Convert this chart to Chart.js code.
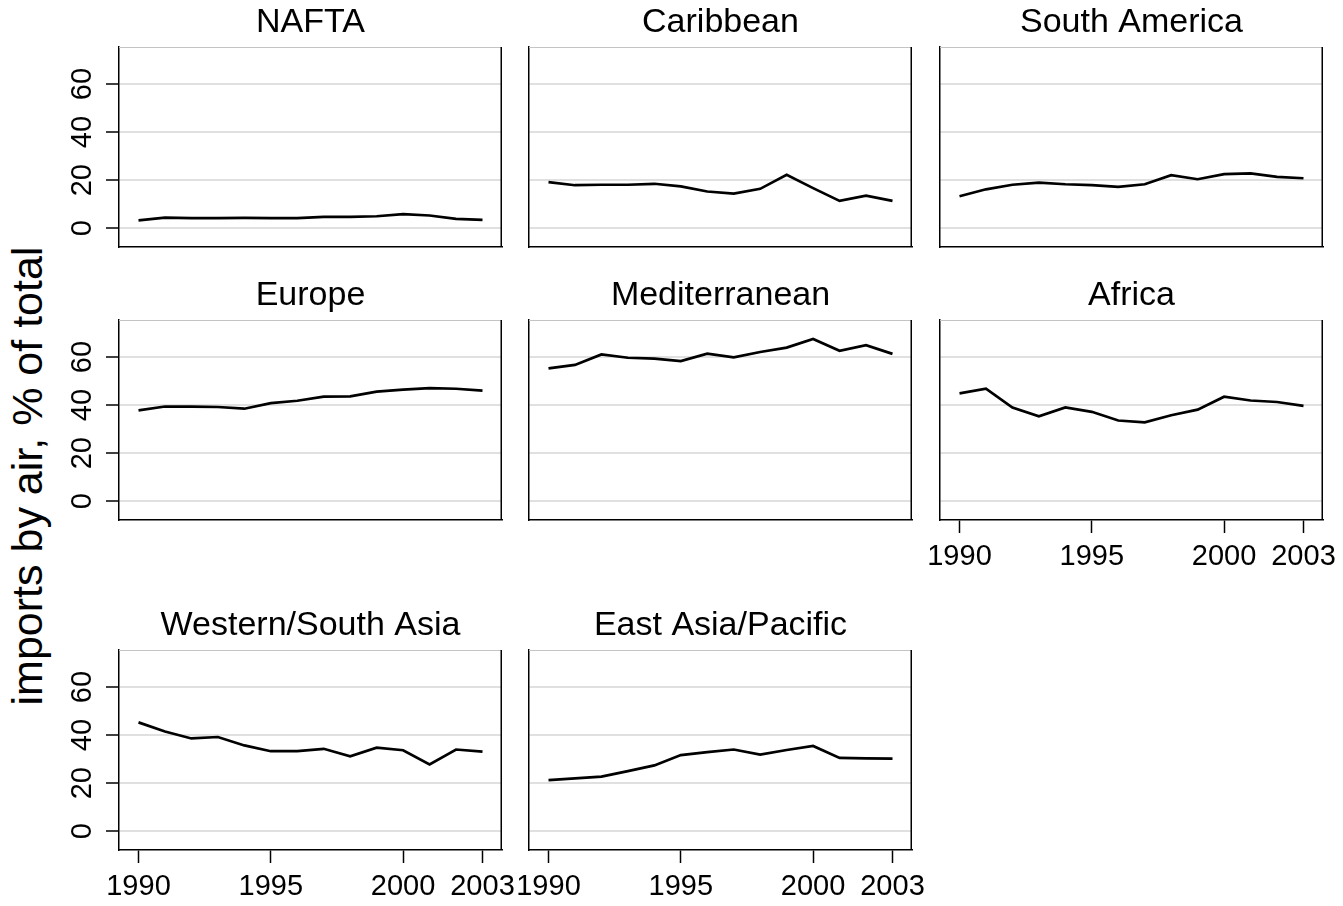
<!DOCTYPE html>
<html>
<head>
<meta charset="utf-8">
<script src="https://cdn.jsdelivr.net/npm/chart.js@4.4.0/dist/chart.umd.min.js"></script>
<style>
html, body { margin: 0; padding: 0; background: #fff; overflow: hidden; width: 1343px; height: 906px; }
canvas { position: absolute; }
#ytitle {
  position: absolute; left: 27px; top: 476px;
  transform: translate(-50%, -50%) rotate(-90deg);
  font-family: 'Liberation Sans', Arial, sans-serif; font-size: 43px; line-height: 43px;
  white-space: nowrap; color: #000;
}
</style>
</head>
<body>
<div id="ytitle">imports by air, % of total</div>
<script>
// ---- data ----
const years = [1990, 1991, 1992, 1993, 1994, 1995, 1996, 1997, 1998, 1999, 2000, 2001, 2002, 2003];
const regionNames = ["NAFTA", "Caribbean", "South America", "Europe", "Mediterranean", "Africa", "Western/South Asia", "East Asia/Pacific"];
const nafta         = [3.3, 4.4, 4.2, 4.2, 4.3, 4.2, 4.2, 4.7, 4.7, 5.0, 5.9, 5.3, 3.9, 3.5];
const caribbean     = [19.2, 17.9, 18.1, 18.1, 18.5, 17.4, 15.3, 14.4, 16.4, 22.2, 16.7, 11.4, 13.6, 11.4];
const southAmerica  = [13.3, 16.2, 18.1, 19.0, 18.3, 17.9, 17.2, 18.3, 22.1, 20.4, 22.5, 22.8, 21.4, 20.8];
const europe        = [37.8, 39.4, 39.4, 39.2, 38.5, 40.8, 41.8, 43.5, 43.6, 45.6, 46.4, 47.1, 46.8, 46.0];
const mediterranean = [55.3, 56.7, 61.1, 59.7, 59.3, 58.3, 61.4, 59.9, 62.1, 63.9, 67.5, 62.6, 64.9, 61.3];
const africa        = [44.9, 46.8, 39.0, 35.3, 39.0, 37.2, 33.6, 32.8, 35.8, 38.1, 43.5, 41.9, 41.3, 39.7];
const westSouthAsia = [45.3, 41.5, 38.6, 39.2, 35.7, 33.3, 33.3, 34.3, 31.2, 34.8, 33.7, 27.8, 34.0, 33.1];
const eastAsiaPac   = [21.3, 22.0, 22.7, 25.0, 27.4, 31.7, 32.9, 34.0, 31.9, 33.8, 35.5, 30.5, 30.3, 30.2];
const seriesValues  = [nafta, caribbean, southAmerica, europe, mediterranean, africa, westSouthAsia, eastAsiaPac];
const xTickLabels = [1990, 1995, 2000, 2003];
const yTickLabels = [0, 20, 40, 60];

// ---- layout (positions / styles kept separate from data) ----
const colLeft = [119, 529, 940];
const rowTop = [47, 320, 650];
const plotW = 383, plotH = 200;
const padL = 75, titleH = 47, axisH = 60, padR = 40;
const panelCell = [[0,0],[0,1],[0,2],[1,0],[1,1],[1,2],[2,0],[2,1]]; // [row, col]
const showXAxis = [false, false, false, false, false, true, true, true];
const FONT = "'Liberation Sans', Arial, sans-serif";

const framePlugin = {
  id: 'frame',
  beforeDatasetsDraw(chart) {
    const {ctx, chartArea: a} = chart;
    ctx.save();
    ctx.strokeStyle = '#c4c4c4';
    ctx.lineWidth = 1;
    ctx.beginPath();
    ctx.moveTo(a.left, a.top + 0.5);
    ctx.lineTo(a.right, a.top + 0.5);
    ctx.stroke();
    ctx.strokeStyle = '#000';
    ctx.lineWidth = 1.5;
    ctx.beginPath();
    ctx.moveTo(a.right - 0.75, a.top);
    ctx.lineTo(a.right - 0.75, a.bottom);
    ctx.stroke();
    ctx.restore();
  }
};

regionNames.forEach((name, i) => {
  const [r, c] = panelCell[i];
  const showX = showXAxis[i];
  const showY = c === 0;
  const cv = document.createElement('canvas');
  cv.width = padL + plotW + padR;
  cv.height = titleH + plotH + axisH;
  cv.style.left = (colLeft[c] - padL) + 'px';
  cv.style.top = (rowTop[r] - titleH) + 'px';
  document.body.appendChild(cv);

  new Chart(cv, {
    type: 'line',
    data: {
      datasets: [{
        data: years.map((y, k) => ({x: y, y: seriesValues[i][k]})),
        borderColor: '#000',
        borderWidth: 2.7,
        pointRadius: 0,
        tension: 0,
        fill: false
      }]
    },
    options: {
      responsive: false,
      animation: false,
      devicePixelRatio: 1,
      layout: { padding: { left: 0, top: 0, right: padR, bottom: 0 } },
      plugins: {
        legend: { display: false },
        tooltip: { enabled: false },
        title: {
          display: true, text: name, fullSize: false, color: '#000',
          font: { family: FONT, size: 34, weight: 'normal', lineHeight: 1.2 },
          padding: { top: 2.6, bottom: 3.6 }
        }
      },
      scales: {
        x: {
          type: 'linear', min: 1989.263, max: 2003.737,
          afterBuildTicks: s => { s.ticks = xTickLabels.map(v => ({value: v})); },
          afterFit: s => { s.height = axisH; },
          grid: { drawOnChartArea: false, drawTicks: showX, tickLength: 13, tickColor: '#000', tickWidth: 1.5 },
          border: { display: true, color: '#000', width: 1.5 },
          ticks: {
            display: showX, color: '#000', padding: 7, autoSkip: false,
            maxRotation: 0, minRotation: 0,
            font: { family: FONT, size: 29 },
            callback: v => String(v)
          }
        },
        y: {
          type: 'linear', min: -7.8, max: 75.4,
          afterBuildTicks: s => { s.ticks = yTickLabels.map(v => ({value: v})); },
          afterFit: s => { s.width = padL; },
          grid: { color: '#e0e0e0', lineWidth: 2, drawTicks: showY, tickLength: 13, tickColor: '#000', tickWidth: 1.5 },
          border: { display: true, color: '#000', width: 1.5 },
          ticks: {
            display: showY, color: '#000', padding: 7,
            minRotation: 90, maxRotation: 90, crossAlign: 'center',
            font: { family: FONT, size: 29 },
            callback: v => String(v)
          }
        }
      }
    },
    plugins: [framePlugin]
  });
});
</script>
</body>
</html>
